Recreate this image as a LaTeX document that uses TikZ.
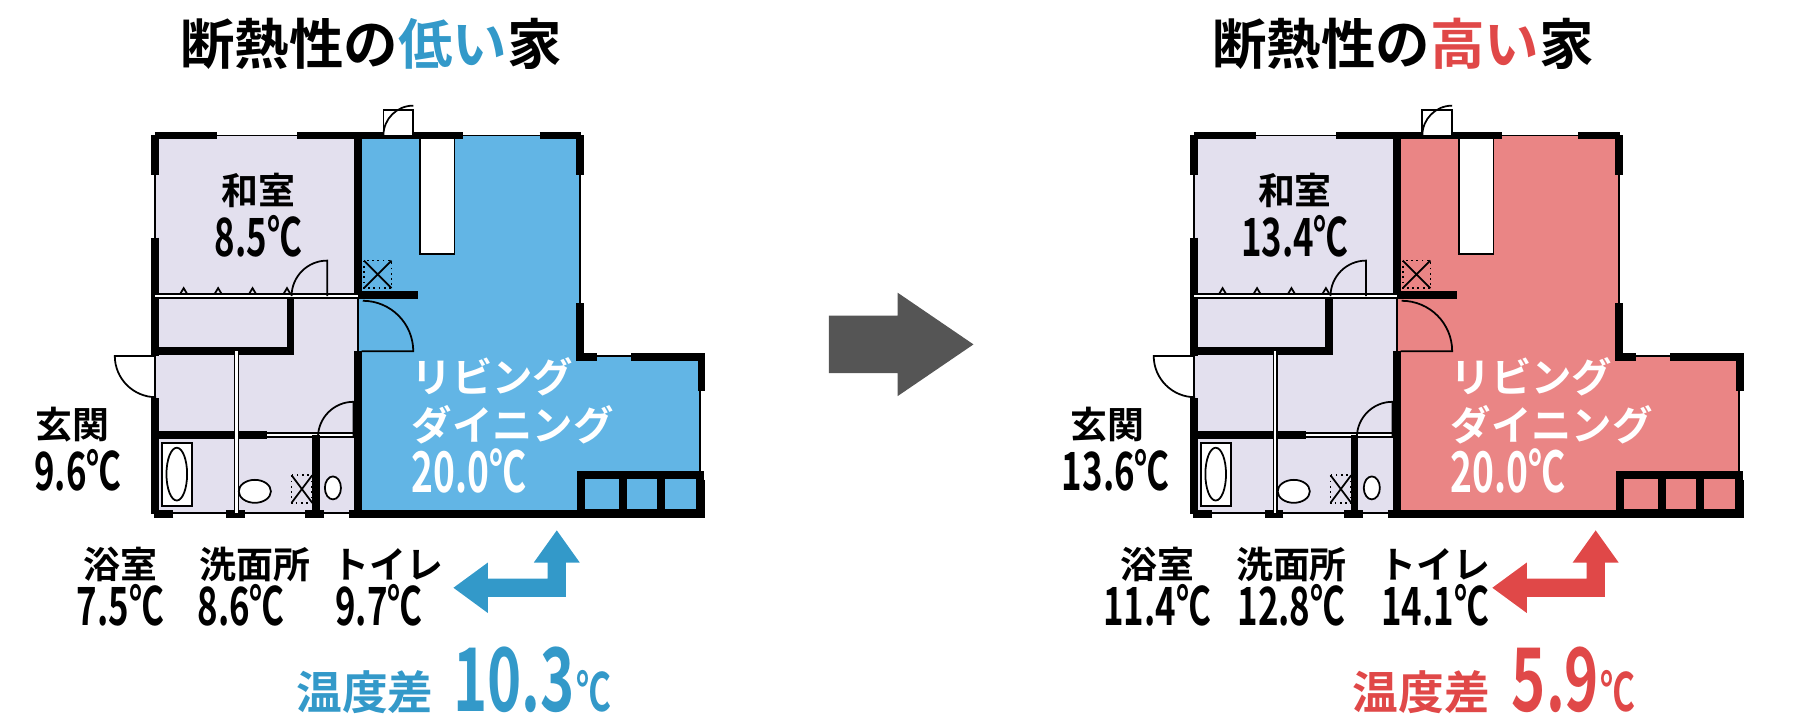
\documentclass[tikz,border=0pt]{standalone}
\usepackage{fontspec}
\setmainfont{Noto Sans CJK JP}[BoldFont={Noto Sans CJK JP Bold}]
\newfontfamily\numfont{Noto Sans CJK JP Bold}[FakeStretch=0.66]
\usetikzlibrary{positioning}

\definecolor{lavroom}{HTML}{E3E0EE}
\definecolor{coldfill}{HTML}{62B5E5}
\definecolor{coldtext}{HTML}{3399C9}
\definecolor{warmfill}{HTML}{EA8585}
\definecolor{warmtext}{HTML}{E04848}
\definecolor{arrowgray}{HTML}{555555}

\tikzset{
  wall/.style={line width=2.2pt},
  thinwall/.style={line width=0.5pt},
  fixture/.style={line width=0.5pt, fill=white},
  roomname/.style={font=\bfseries\fontsize{10.5}{10.5}\selectfont, inner sep=0pt},
  roomtemp/.style={font=\numfont\fontsize{15}{15}\selectfont, inner sep=0pt},
  livtext/.style={font=\bfseries\fontsize{11.5}{13}\selectfont, text=white, inner sep=0pt, anchor=west},
  title/.style={font=\bfseries\fontsize{15.5}{15.5}\selectfont, inner sep=0pt},
}

% one floor plan, #1 is the living room colour
\newcommand\housePlan[1]{%
  % room fills
  \fill[lavroom] (135,118) rectangle (312,447);
  \fill[#1] (312,118) -- (505,118) -- (505,310) -- (610,310) -- (610,447) -- (312,447) -- cycle;
  % outline with windows
  \draw[thinwall] (135,118) -- (505,118) -- (505,310) -- (610,310) -- (610,447) -- (135,447) -- cycle;
  \draw[wall] (135,118) -- (189,118) (259,118) -- (403,118) (470,118) -- (506,118);
  \draw[wall] (135,118) -- (135,152) (135,207) -- (135,310) (135,347) -- (135,448);
  \draw[wall] (505,118) -- (505,152) (505,264) -- (505,311) -- (520,311) (550,311) -- (611,311) -- (611,341);
  \draw[wall] (611,418) -- (611,448) -- (304,448) (282,448) -- (266,448) (213,448) -- (197,448) (151,448) -- (134,448);
  % inner walls
  \draw[wall] (312,118) -- (312,258) (312,306) -- (312,447);
  \draw[thinwall] (312,258) -- (312,306);
  \draw[wall] (312,257) -- (364,257);
  \draw[thinwall, double] (135,258) -- (253,258) (253,258) -- (312,258);
  \foreach \tx in {160,190,220,250} \draw[thinwall] (\tx-3,256) -- (\tx,251) -- (\tx+3,256);
  \draw[wall] (253,259) -- (253,306) -- (135,306);
  \draw[wall] (135,379) -- (233,379);
  \draw[thinwall, double] (233,379) -- (308,379);
  \draw[thinwall, double] (206,306) -- (206,447);
  \draw[wall] (275,379) -- (275,447);
  % doors
  \draw[thinwall] (285,258) -- (285,227) arc (-90:-180:31);
  \draw[thinwall] (315,306) -- (360,306) arc (0:-90:44);
  \draw[thinwall] (308,380) -- (308,350) arc (-90:-180:31);
  \draw[thinwall] (135,310) -- (100,310) arc (180:90:36);
  % fixtures
  \draw[fixture] (334,96) rectangle (360,118);
  \draw[thinwall] (334,118) arc (180:270:26);
  \draw[fixture] (366,120) rectangle (396,221);
  \draw[thinwall, densely dotted] (317,227) rectangle (341,251);
  \draw[thinwall] (317,227) -- (341,251) (341,227) -- (317,251);
  \draw[thinwall, densely dotted] (254,414) rectangle (272,438);
  \draw[thinwall] (254,414) -- (272,438) (272,414) -- (254,438);
  \draw[fixture] (141,386) rectangle (167,441);
  \draw[fixture] (154,413) ellipse (9 and 23);
  \draw[fixture] (222,428) ellipse (14 and 10);
  \draw[fixture] (290,425) ellipse (7 and 10);
  \draw[wall, fill=#1] (506,414) rectangle (610,447);
  \draw[wall] (543,414) -- (543,447) (576,414) -- (576,447);
}

\begin{document}
\begin{tikzpicture}[x=0.01148cm, y=-0.01148cm]
  \useasboundingbox (0,0) rectangle (1568,633);

  % ---- left house ----
  \housePlan{coldfill}
  \node[title] (titleL) at (323,38) {断熱性の\textcolor{coldtext}{低い}家};
  \node[roomname] (washitsuL) at (225,166) {和室};
  \node[roomtemp] (washitsuLt) at (225,206) {8.5℃};
  \node[roomname] (genkanL) at (63,370) {玄関};
  \node[roomtemp] (genkanLt) at (68,410) {9.6℃};
  \node[livtext] (livL1) at (358,328) {リビング};
  \node[livtext] (livL2) at (358,370) {ダイニング};
  \node[livtext, font=\numfont\fontsize{16}{16}\selectfont] (livL3) at (358,410) {20.0℃};
  \node[roomname] (yokuL) at (105,492) {浴室};
  \node[roomtemp] (yokuLt) at (105,527) {7.5℃};
  \node[roomname] (senL) at (222,492) {洗面所};
  \node[roomtemp] (senLt) at (210,527) {8.6℃};
  \node[roomname] (toiL) at (338,492) {トイレ};
  \node[roomtemp] (toiLt) at (330,527) {9.7℃};
  \node[roomname, font=\bfseries\fontsize{13}{13}\selectfont, text=coldtext] (diffL) at (318,603) {温度差};
  \node[font=\numfont\fontsize{25}{25}\selectfont, text=coldtext, inner sep=0pt] (diffLv) at (448,592) {10.3};
  \node[font=\numfont\fontsize{15}{15}\selectfont, text=coldtext, inner sep=0pt, right=0pt of diffLv.south east, anchor=south west] (diffLu) {℃};
  \fill[coldtext] (395,512) -- (425,490) -- (425,504) -- (477,504) -- (477,490) -- (465,490) -- (485,462)
    -- (505,490) -- (493,490) -- (493,520) -- (425,520) -- (425,534) -- cycle;

  % ---- middle arrow ----
  \fill[arrowgray] (722,275) -- (782,275) -- (782,255) -- (848,300) -- (782,345) -- (782,325) -- (722,325) -- cycle;

  % ---- right house ----
  \begin{scope}[shift={(905,0)}]
    \housePlan{warmfill}
  \end{scope}
  \node[title] (titleR) at (1222,38) {断熱性の\textcolor{warmtext}{高い}家};
  \node[roomname] (washitsuR) at (1128,166) {和室};
  \node[roomtemp] (washitsuRt) at (1128,206) {13.4℃};
  \node[roomname] (genkanR) at (965,370) {玄関};
  \node[roomtemp] (genkanRt) at (972,410) {13.6℃};
  \node[livtext] (livR1) at (1263,328) {リビング};
  \node[livtext] (livR2) at (1263,370) {ダイニング};
  \node[livtext, font=\numfont\fontsize{16}{16}\selectfont] (livR3) at (1263,410) {20.0℃};
  \node[roomname] (yokuR) at (1008,492) {浴室};
  \node[roomtemp] (yokuRt) at (1008,527) {11.4℃};
  \node[roomname] (senR) at (1125,492) {洗面所};
  \node[roomtemp] (senRt) at (1125,527) {12.8℃};
  \node[roomname] (toiR) at (1250,492) {トイレ};
  \node[roomtemp] (toiRt) at (1250,527) {14.1℃};
  \node[roomname, font=\bfseries\fontsize{13}{13}\selectfont, text=warmtext] (diffR) at (1238,603) {温度差};
  \node[font=\numfont\fontsize{25}{25}\selectfont, text=warmtext, inner sep=0pt] (diffRv) at (1355,592) {5.9};
  \node[font=\numfont\fontsize{15}{15}\selectfont, text=warmtext, inner sep=0pt, right=0pt of diffRv.south east, anchor=south west] (diffRu) {℃};
  \fill[warmtext] (1300,512) -- (1330,490) -- (1330,504) -- (1382,504) -- (1382,490) -- (1370,490) -- (1390,462)
    -- (1410,490) -- (1398,490) -- (1398,520) -- (1330,520) -- (1330,534) -- cycle;
\end{tikzpicture}
\end{document}
